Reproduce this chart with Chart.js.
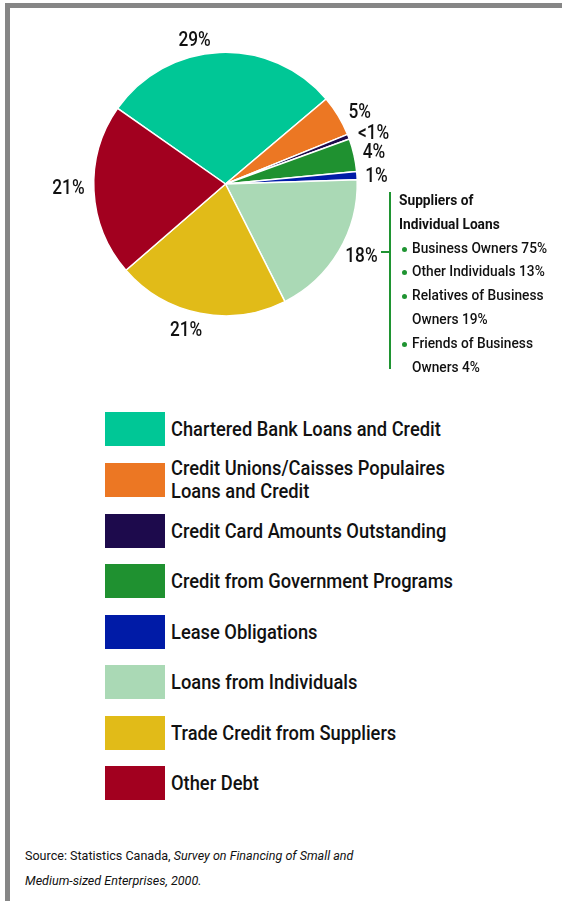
<!DOCTYPE html>
<html>
<head>
<meta charset="utf-8">
<script src="https://cdn.jsdelivr.net/npm/chart.js@4.4.1/dist/chart.umd.min.js"></script>
<style>
  html, body { margin: 0; padding: 0; background: #fff; }
  body { width: 562px; height: 901px; position: relative; overflow: hidden;
         font-family: Roboto, 'Liberation Sans', sans-serif; font-weight: 500; color: #111; }
  .narrow { display: inline-block; transform-origin: 0 0; white-space: nowrap; }
  .frame-top { position: absolute; left: 5px; top: 3px; width: 557px; height: 5px; background: #868686; }
  .frame-left { position: absolute; left: 5px; top: 3px; width: 5px; height: 898px; background: #868686; }
  #pieBox { position: absolute; left: 0; top: 0; width: 562px; height: 380px; }
  .bracket { position: absolute; left: 389px; top: 192px; width: 2px; height: 177px; background: #1f9432; }
  .bracket-tick { position: absolute; left: 381px; top: 251px; width: 9px; height: 2px; background: #1f9432; }
  .suppliers { position: absolute; left: 399px; top: 189px; font-size: 15px; line-height: 23.8px; }
  .suppliers .narrow { transform: scaleX(0.915); }
  .suppliers .head { font-weight: 700; }
  .suppliers .item { position: relative; padding-left: 13px; }
  .suppliers .item::before { content: ''; position: absolute; left: 3px; top: 10px; width: 5px; height: 5px;
                             border-radius: 50%; background: #1f9432; }
  #legend { position: absolute; left: 105px; top: 412px; }
  .lg-row { position: absolute; left: 0; width: 400px; height: 34px; }
  .lg-box { position: absolute; left: 0; top: 0; width: 60px; height: 34px; }
  .lg-text { position: absolute; left: 66px; top: 50%; transform: translateY(-50%); font-size: 20px; line-height: 23px; }
  .lg-text .narrow { transform: scaleX(0.915); }
  .source { position: absolute; left: 25px; top: 843px; font-size: 13.5px; line-height: 25px; font-weight: 400; }
  .source .narrow { transform: scaleX(0.93); }
</style>
</head>
<body>
<div class="frame-top"></div>
<div class="frame-left"></div>
<div id="pieBox"><canvas id="debtPie"></canvas></div>

<div class="bracket"></div>
<div class="bracket-tick"></div>
<div class="suppliers" id="suppliers"></div>

<div id="legend"></div>

<div class="source"><span class="narrow">Source: Statistics Canada, <i>Survey on Financing of Small and</i></span><br><span class="narrow"><i>Medium-sized Enterprises, 2000.</i></span></div>

<script>
// Share of debt financing by source (%)
const categories = [
    'Chartered Bank Loans and Credit',
    'Credit Unions/Caisses Populaires\nLoans and Credit',
    'Credit Card Amounts Outstanding',
    'Credit from Government Programs',
    'Lease Obligations',
    'Loans from Individuals',
    'Trade Credit from Suppliers',
    'Other Debt'
];
const shares = [29, 5, 0.6, 4, 1, 18, 21, 21];
const colors = ['#00c796', '#ec7723', '#1d0a4c', '#1f9130', '#001ba7', '#aad9b5', '#e1bb18', '#a2001f'];

// Breakdown of the "Loans from Individuals" slice
const supplierNames = ['Business Owners', 'Other Individuals', 'Relatives of Business\nOwners', 'Friends of Business\nOwners'];
const supplierShares = [75, 13, 19, 4];

// small per-slice nudges so the outside labels sit clear of each other
const labelNudge = [[-24, 9], [4, 8], [6, 5], [0, 3], [-1, 3], [5, -5], [-10, -2], [-5, -3]];

const pctLabel = v => (v < 1 ? '<1' : v) + '%';

const outsideLabels = {
    id: 'outsideLabels',
    afterDatasetsDraw(chart) {
        const ctx = chart.ctx;
        const arcs = chart.getDatasetMeta(0).data;
        ctx.save();
        ctx.font = '500 19.5px Roboto, "Liberation Sans", sans-serif';
        ctx.fillStyle = '#111';
        ctx.textAlign = 'center';
        ctx.textBaseline = 'middle';
        arcs.forEach((arc, i) => {
            const mid = (arc.startAngle + arc.endAngle) / 2;
            const r = arc.outerRadius + 20.5;
            const x = arc.x + Math.cos(mid) * r + labelNudge[i][0];
            const y = arc.y + Math.sin(mid) * r + labelNudge[i][1];
            // condensed look: squeeze the text horizontally
            ctx.save();
            ctx.translate(x, y);
            ctx.scale(0.885, 1);
            ctx.fillText(pctLabel(shares[i]), 0, 0);
            ctx.restore();
        });
        ctx.restore();
    }
};

new Chart(document.getElementById('debtPie'), {
    type: 'pie',
    data: {
        labels: categories,
        datasets: [{
            data: shares,
            backgroundColor: colors,
            borderColor: '#ffffff',
            borderWidth: 1.5
        }]
    },
    options: {
        responsive: true,
        maintainAspectRatio: false,
        animation: false,
        rotation: -55,
        layout: { padding: { left: 93, right: 204, top: 51.5, bottom: 63.5 } },
        plugins: {
            legend: { display: false },
            tooltip: { enabled: false }
        }
    },
    plugins: [outsideLabels]
});

// Supplier breakdown next to the bracket
const narrowLines = s => s.split('\n').map(t => '<span class="narrow">' + t + '</span>').join('<br>');
const sup = document.getElementById('suppliers');
sup.innerHTML = '<div class="head">' + narrowLines('Suppliers of\nIndividual Loans') + '</div>' +
    supplierNames.map((n, i) => '<div class="item">' + narrowLines(n + ' ' + supplierShares[i] + '%') + '</div>').join('');

// Legend with large colour swatches
const legendTops = [0, 51, 102, 152, 203, 253, 304, 354];
const legend = document.getElementById('legend');
categories.forEach((c, i) => {
    const row = document.createElement('div');
    row.className = 'lg-row';
    row.style.top = legendTops[i] + 'px';
    row.innerHTML = '<div class="lg-box" style="background:' + colors[i] + '"></div>' +
        '<div class="lg-text">' + narrowLines(c) + '</div>';
    legend.appendChild(row);
});
</script>
</body>
</html>
